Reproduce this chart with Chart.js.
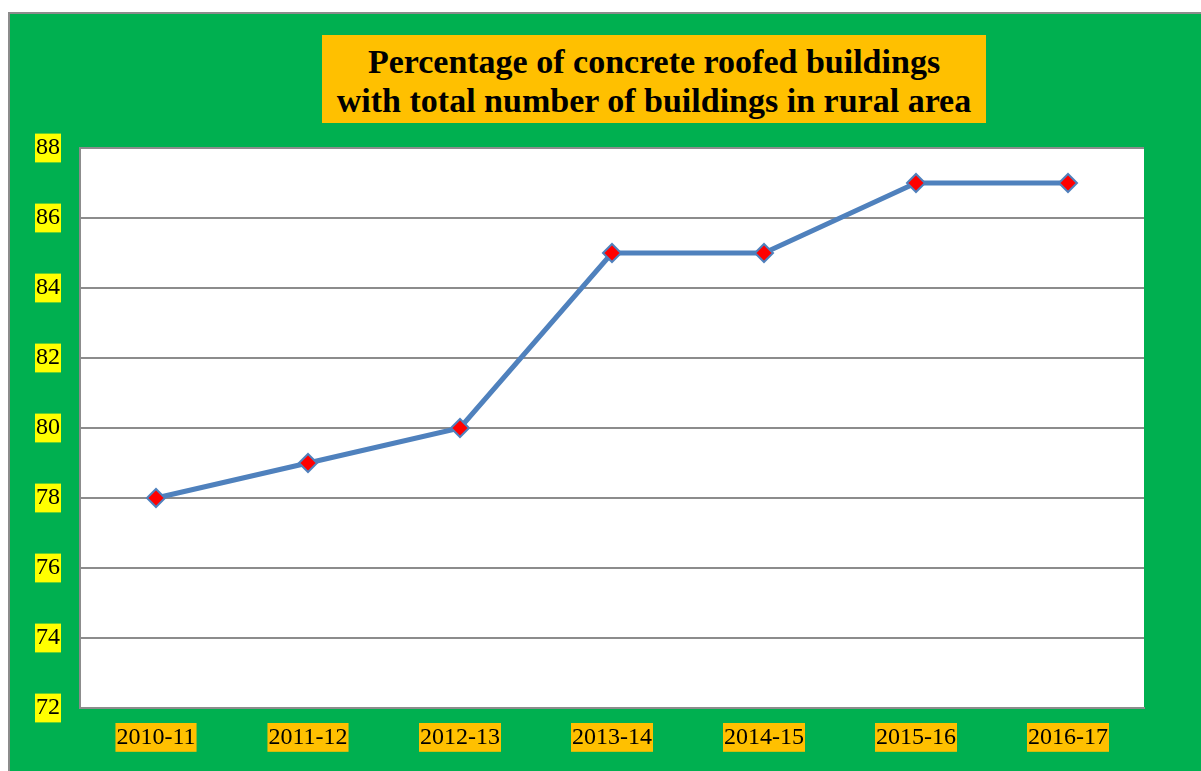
<!DOCTYPE html>
<html>
<head>
<meta charset="utf-8">
<script src="https://cdn.jsdelivr.net/npm/chart.js@4"></script>
<style>
    body { margin: 0; background: #ffffff; }
    #frame {
        position: absolute; left: 8px; top: 12px; width: 1200px; height: 770px;
        background: #00b050; border-left: 2px solid #8c8c8c; border-top: 2px solid #8c8c8c;
    }
    #chart-box { position: absolute; left: 0; top: 0; width: 1201px; height: 771px; }
    #title {
        position: absolute; left: 322px; top: 35px; width: 664px; height: 88px;
        background: #ffc000; color: #000;
        font: bold 34px "Liberation Serif", "Times New Roman", serif;
        line-height: 39px; text-align: center; padding-top: 7px; box-sizing: border-box;
    }
</style>
</head>
<body>
<div id="frame"></div>
<div id="chart-box"><canvas id="chart" width="1201" height="771"></canvas></div>
<div id="title">Percentage of concrete roofed buildings<br>with total number of buildings in rural area</div>
<script>
// chart data
const years = ['2010-11', '2011-12', '2012-13', '2013-14', '2014-15', '2015-16', '2016-17'];
const percentages = [78, 79, 80, 85, 85, 87, 87];

// colours
const COLOR_LINE = '#4f81bd';
const COLOR_GRID = '#8c8c8c';

// white plot area behind the lines
const plotBackground = {
    id: 'plotBackground',
    beforeDraw: function(chart) {
        const a = chart.chartArea;
        const ctx = chart.ctx;
        ctx.save();
        ctx.fillStyle = '#ffffff';
        ctx.fillRect(a.left, a.top, a.right - a.left, a.bottom - a.top);
        ctx.restore();
    }
};

const ctx = document.getElementById('chart').getContext('2d');
new Chart(ctx, {
    type: 'line',
    data: {
        labels: years,
        datasets: [{
            data: percentages,
            borderColor: COLOR_LINE,
            borderWidth: 5,
            pointStyle: 'rectRot',
            pointRadius: 9,
            pointBackgroundColor: '#ff0000',
            pointBorderColor: COLOR_LINE,
            pointBorderWidth: 2,
            tension: 0
        }]
    },
    options: {
        responsive: false,
        animation: false,
        layout: { padding: { top: 148, right: 57, left: 0, bottom: 0 } },
        plugins: { legend: { display: false }, tooltip: { enabled: false } },
        scales: {
            x: {
                offset: true,
                grid: { display: false, drawTicks: false },
                border: { color: COLOR_GRID, width: 2 },
                ticks: {
                    color: '#000',
                    font: { family: '"Liberation Serif"', size: 24 },
                    padding: 15,
                    maxRotation: 0,
                    showLabelBackdrop: true,
                    backdropColor: '#ffc000',
                    backdropPadding: { top: 0, bottom: 0, left: 1, right: 1 }
                },
                afterFit: function(scale) { scale.height = 63; }
            },
            y: {
                min: 72,
                max: 88,
                grid: { color: COLOR_GRID, lineWidth: 2, drawTicks: false },
                border: { color: COLOR_GRID, width: 2 },
                ticks: {
                    stepSize: 2,
                    color: '#000',
                    font: { family: '"Liberation Serif"', size: 24 },
                    padding: 20,
                    showLabelBackdrop: true,
                    backdropColor: '#ffff00',
                    backdropPadding: { top: 0, bottom: 0, left: 1, right: 1 }
                },
                afterFit: function(scale) { scale.width = 80; }
            }
        }
    },
    plugins: [plotBackground]
});
</script>
</body>
</html>
